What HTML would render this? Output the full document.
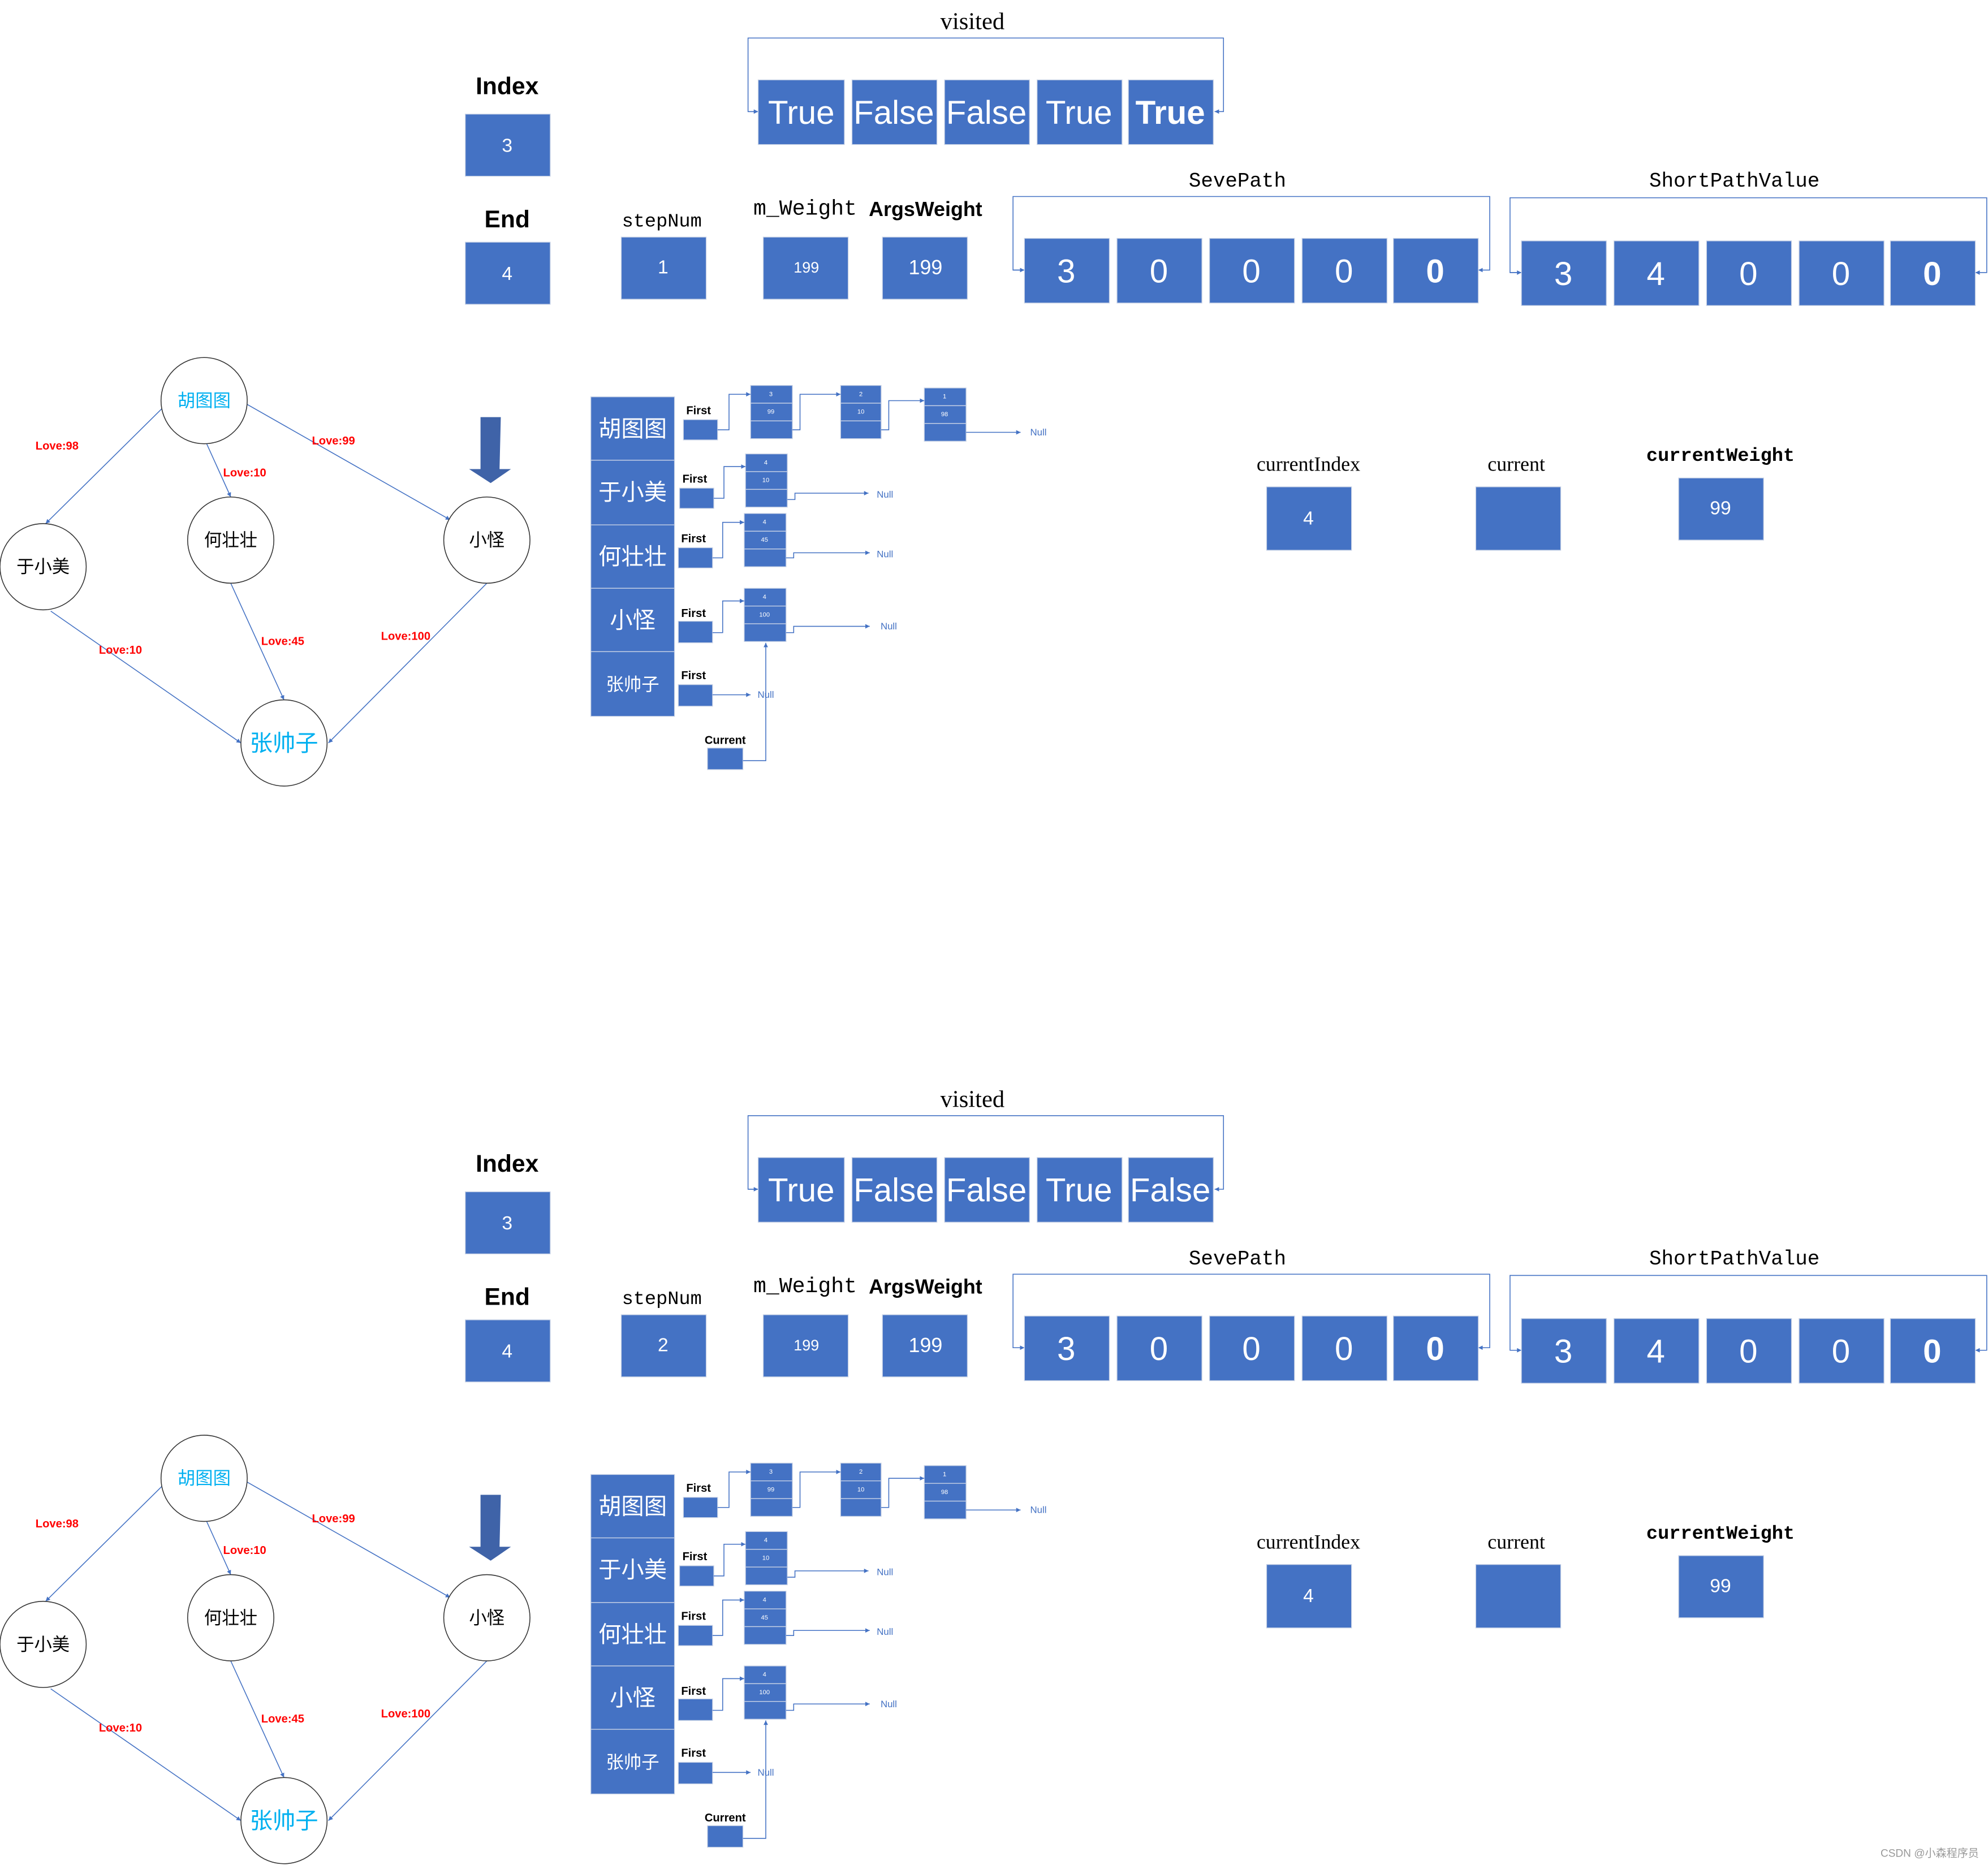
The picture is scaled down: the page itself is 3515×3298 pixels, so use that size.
<!DOCTYPE html>
<html><head><meta charset="utf-8"><style>
html,body{margin:0;padding:0;background:#fff;}
svg{display:block;}
.b{fill:#4472C4;stroke:#C9D3E6;stroke-width:0.6;}
.w{fill:#fff;font-family:"Liberation Sans","Noto Sans CJK SC",sans-serif;text-anchor:middle;dominant-baseline:central;}
.lbl{font-family:"Liberation Sans","Noto Sans CJK SC",sans-serif;text-anchor:middle;dominant-baseline:central;fill:#000;}
.ser{font-family:"Liberation Serif","Noto Serif CJK SC",serif;text-anchor:middle;dominant-baseline:central;fill:#000;}
.mono{font-family:"Liberation Mono","Noto Sans CJK SC",monospace;text-anchor:middle;dominant-baseline:central;fill:#000;}
.ln{fill:none;stroke:#4472C4;stroke-width:0.7;}
.red{fill:#FF0000;font-family:"Liberation Sans",sans-serif;font-size:9px;font-weight:bold;text-anchor:middle;dominant-baseline:central;}
.nul{fill:#4472C4;font-family:"Liberation Sans",sans-serif;font-size:7.5px;text-anchor:middle;dominant-baseline:central;}
.fst{fill:#000;font-family:"Liberation Sans",sans-serif;font-size:9px;font-weight:bold;text-anchor:middle;dominant-baseline:central;}
.c{fill:#fff;stroke:#333;stroke-width:0.7;}
.cn{font-family:"Liberation Sans","Noto Sans CJK SC",sans-serif;text-anchor:middle;dominant-baseline:central;}
</style></head><body>
<svg width="3515" height="3298" viewBox="0 0 1568 1471" preserveAspectRatio="none" xmlns="http://www.w3.org/2000/svg">
<defs>
<marker id="a" viewBox="0 0 10 10" refX="10" refY="5" markerWidth="5" markerHeight="5" orient="auto"><path d="M0,0L10,5L0,10z" fill="#4472C4"/></marker>
</defs>

<!-- ============ TOP HALF ============ -->
<g>
<text class="ser" x="767" y="17" font-size="19">visited</text>
<path class="ln" d="M598,88H590V30H965V88H958" marker-end="url(#a)"/>
<path class="ln" d="M590,88H598" marker-end="url(#a)"/>
<rect class="b" x="598" y="63" width="68" height="51"/><text class="w" x="632" y="89" font-size="26">True</text>
<rect class="b" x="672" y="63" width="67" height="51"/><text class="w" x="705" y="89" font-size="26">False</text>
<rect class="b" x="745" y="63" width="67" height="51"/><text class="w" x="778" y="89" font-size="26">False</text>
<rect class="b" x="818" y="63" width="67" height="51"/><text class="w" x="851" y="89" font-size="26">True</text>
<rect class="b" x="890" y="63" width="67" height="51"/><text class="w" x="923" y="89" font-size="26" font-weight="bold">True</text>

<text class="lbl" x="400" y="68" font-size="19" font-weight="bold">Index</text>
<rect class="b" x="367" y="90" width="67" height="49"/><text class="w" x="400" y="115" font-size="15">3</text>
<text class="lbl" x="400" y="173" font-size="19" font-weight="bold">End</text>
<rect class="b" x="367" y="191" width="67" height="49"/><text class="w" x="400" y="216" font-size="15">4</text>
<text class="mono" x="522" y="175" font-size="15">stepNum</text>
<rect class="b" x="490" y="187" width="67" height="49"/><text class="w" x="523" y="211" font-size="15">1</text>
<text class="mono" x="635" y="165" font-size="17">m_Weight</text>
<rect class="b" x="602" y="187" width="67" height="49"/><text class="w" x="636" y="211" font-size="12">199</text>
<text class="lbl" x="730" y="165" font-size="16" font-weight="bold">ArgsWeight</text>
<rect class="b" x="696" y="187" width="67" height="49"/><text class="w" x="730" y="211" font-size="16">199</text>

<text class="mono" x="976" y="143" font-size="16">SevePath</text>
<path class="ln" d="M808,213H799V155H1175V213H1166" marker-end="url(#a)"/>
<path class="ln" d="M799,213H808" marker-end="url(#a)"/>
<rect class="b" x="808" y="188" width="67" height="51"/><text class="w" x="841" y="214" font-size="26">3</text>
<rect class="b" x="881" y="188" width="67" height="51"/><text class="w" x="914" y="214" font-size="26">0</text>
<rect class="b" x="954" y="188" width="67" height="51"/><text class="w" x="987" y="214" font-size="26">0</text>
<rect class="b" x="1027" y="188" width="67" height="51"/><text class="w" x="1060" y="214" font-size="26">0</text>
<rect class="b" x="1099" y="188" width="67" height="51"/><text class="w" x="1132" y="214" font-size="26" font-weight="bold">0</text>

<text class="mono" x="1368" y="143" font-size="16">ShortPathValue</text>
<path class="ln" d="M1200,215H1191V156H1567V215H1558" marker-end="url(#a)"/>
<path class="ln" d="M1191,215H1200" marker-end="url(#a)"/>
<rect class="b" x="1200" y="190" width="67" height="51"/><text class="w" x="1233" y="216" font-size="26">3</text>
<rect class="b" x="1273" y="190" width="67" height="51"/><text class="w" x="1306" y="216" font-size="26">4</text>
<rect class="b" x="1346" y="190" width="67" height="51"/><text class="w" x="1379" y="216" font-size="26">0</text>
<rect class="b" x="1419" y="190" width="67" height="51"/><text class="w" x="1452" y="216" font-size="26">0</text>
<rect class="b" x="1491" y="190" width="67" height="51"/><text class="w" x="1524" y="216" font-size="26" font-weight="bold">0</text>

<text class="ser" x="1032" y="366" font-size="16">currentIndex</text>
<rect class="b" x="999" y="384" width="67" height="50"/><text class="w" x="1032" y="409" font-size="15">4</text>
<text class="ser" x="1196" y="366" font-size="16">current</text>
<rect class="b" x="1164" y="384" width="67" height="50"/>
<text class="mono" x="1357" y="360" font-size="15" font-weight="bold">currentWeight</text>
<rect class="b" x="1324" y="377" width="67" height="49"/><text class="w" x="1357" y="401" font-size="15">99</text>

<!-- graph -->
<path class="ln" d="M128,322L36,413" marker-end="url(#a)"/>
<path class="ln" d="M163,350L182,392" marker-end="url(#a)"/>
<path class="ln" d="M195,319L355,410" marker-end="url(#a)"/>
<path class="ln" d="M40,482L190,586" marker-end="url(#a)"/>
<path class="ln" d="M182,460L224,552" marker-end="url(#a)"/>
<path class="ln" d="M384,460L259,586" marker-end="url(#a)"/>
<ellipse class="c" cx="161" cy="316" rx="34" ry="34"/><text class="cn" x="161" y="316" font-size="14" fill="#00B0F0">胡图图</text>
<ellipse class="c" cx="34" cy="447" rx="34" ry="34"/><text class="cn" x="34" y="447" font-size="14" fill="#000">于小美</text>
<ellipse class="c" cx="182" cy="426" rx="34" ry="34"/><text class="cn" x="182" y="426" font-size="14" fill="#000">何壮壮</text>
<ellipse class="c" cx="384" cy="426" rx="34" ry="34"/><text class="cn" x="384" y="426" font-size="14" fill="#000">小怪</text>
<ellipse class="c" cx="224" cy="586" rx="34" ry="34"/><text class="cn" x="224" y="586" font-size="18" fill="#00B0F0">张帅子</text>
<text class="red" x="45" y="352">Love:98</text>
<text class="red" x="193" y="373">Love:10</text>
<text class="red" x="263" y="348">Love:99</text>
<text class="red" x="95" y="513">Love:10</text>
<text class="red" x="223" y="506" font-weight="normal">Love:45</text>
<text class="red" x="320" y="502">Love:100</text>
<path d="M379,329L395,329L394,370L403,370L387,381L370,370L379,370Z" fill="#3F63A8"/>

<!-- adjacency -->
<rect class="b" x="466" y="313" width="66" height="50"/><text class="w" x="499" y="338" font-size="18">胡图图</text>
<rect class="b" x="466" y="363" width="66" height="51"/><text class="w" x="499" y="388" font-size="18">于小美</text>
<rect class="b" x="466" y="414" width="66" height="50"/><text class="w" x="499" y="439" font-size="18">何壮壮</text>
<rect class="b" x="466" y="464" width="66" height="50"/><text class="w" x="499" y="489" font-size="18">小怪</text>
<rect class="b" x="466" y="514" width="66" height="51"/><text class="w" x="499" y="540" font-size="14">张帅子</text>

<text class="fst" x="551" y="324">First</text><rect class="b" x="539" y="331" width="27" height="16"/>
<text class="fst" x="548" y="378">First</text><rect class="b" x="536" y="385" width="27" height="16"/>
<text class="fst" x="547" y="425">First</text><rect class="b" x="535" y="432" width="27" height="16"/>
<text class="fst" x="547" y="484">First</text><rect class="b" x="535" y="490" width="27" height="17"/>
<text class="fst" x="547" y="533">First</text><rect class="b" x="535" y="540" width="27" height="17"/>

<g>
<rect class="b" x="592" y="304" width="33" height="14"/><rect class="b" x="592" y="318" width="33" height="14"/><rect class="b" x="592" y="332" width="33" height="14"/>
<text class="w" x="608" y="311" font-size="5">3</text><text class="w" x="608" y="325" font-size="5">99</text>
<rect class="b" x="663" y="304" width="32" height="14"/><rect class="b" x="663" y="318" width="32" height="14"/><rect class="b" x="663" y="332" width="32" height="14"/>
<text class="w" x="679" y="311" font-size="5">2</text><text class="w" x="679" y="325" font-size="5">10</text>
<rect class="b" x="729" y="306" width="33" height="14"/><rect class="b" x="729" y="320" width="33" height="14"/><rect class="b" x="729" y="334" width="33" height="14"/>
<text class="w" x="745" y="313" font-size="5">1</text><text class="w" x="745" y="327" font-size="5">98</text>
<path class="ln" d="M566,339H575V311H592" marker-end="url(#a)"/>
<path class="ln" d="M625,339H631V311H663" marker-end="url(#a)"/>
<path class="ln" d="M695,339H701V316H729" marker-end="url(#a)"/>
<path class="ln" d="M762,341H805" marker-end="url(#a)"/>
<text class="nul" x="819" y="341">Null</text>

<rect class="b" x="588" y="358" width="33" height="14"/><rect class="b" x="588" y="372" width="33" height="14"/><rect class="b" x="588" y="386" width="33" height="14"/>
<text class="w" x="604" y="365" font-size="5">4</text><text class="w" x="604" y="379" font-size="5">10</text>
<path class="ln" d="M563,393H571V368H588" marker-end="url(#a)"/>
<path class="ln" d="M621,394H627V389H685" marker-end="url(#a)"/>
<text class="nul" x="698" y="390">Null</text>

<rect class="b" x="587" y="405" width="33" height="14"/><rect class="b" x="587" y="419" width="33" height="14"/><rect class="b" x="587" y="433" width="33" height="14"/>
<text class="w" x="603" y="412" font-size="5">4</text><text class="w" x="603" y="426" font-size="5">45</text>
<path class="ln" d="M562,440H570V412H587" marker-end="url(#a)"/>
<path class="ln" d="M620,440H626V436H686" marker-end="url(#a)"/>
<text class="nul" x="698" y="437">Null</text>

<rect class="b" x="587" y="464" width="33" height="14"/><rect class="b" x="587" y="478" width="33" height="14"/><rect class="b" x="587" y="492" width="33" height="14"/>
<text class="w" x="603" y="471" font-size="5">4</text><text class="w" x="603" y="485" font-size="5">100</text>
<path class="ln" d="M562,499H570V474H587" marker-end="url(#a)"/>
<path class="ln" d="M620,499H626V494H686" marker-end="url(#a)"/>
<text class="nul" x="701" y="494">Null</text>

<path class="ln" d="M562,548H592" marker-end="url(#a)"/>
<text class="nul" x="604" y="548">Null</text>

<text class="fst" x="572" y="584">Current</text><rect class="b" x="558" y="590" width="28" height="17"/>
<path class="ln" d="M586,600H604V507" marker-end="url(#a)"/>
</g>
</g>

<!-- ============ BOTTOM HALF ============ -->
<g transform="translate(0,850)">
<text class="ser" x="767" y="17" font-size="19">visited</text>
<path class="ln" d="M598,88H590V30H965V88H958" marker-end="url(#a)"/>
<path class="ln" d="M590,88H598" marker-end="url(#a)"/>
<rect class="b" x="598" y="63" width="68" height="51"/><text class="w" x="632" y="89" font-size="26">True</text>
<rect class="b" x="672" y="63" width="67" height="51"/><text class="w" x="705" y="89" font-size="26">False</text>
<rect class="b" x="745" y="63" width="67" height="51"/><text class="w" x="778" y="89" font-size="26">False</text>
<rect class="b" x="818" y="63" width="67" height="51"/><text class="w" x="851" y="89" font-size="26">True</text>
<rect class="b" x="890" y="63" width="67" height="51"/><text class="w" x="923" y="89" font-size="26">False</text>

<text class="lbl" x="400" y="68" font-size="19" font-weight="bold">Index</text>
<rect class="b" x="367" y="90" width="67" height="49"/><text class="w" x="400" y="115" font-size="15">3</text>
<text class="lbl" x="400" y="173" font-size="19" font-weight="bold">End</text>
<rect class="b" x="367" y="191" width="67" height="49"/><text class="w" x="400" y="216" font-size="15">4</text>
<text class="mono" x="522" y="175" font-size="15">stepNum</text>
<rect class="b" x="490" y="187" width="67" height="49"/><text class="w" x="523" y="211" font-size="15">2</text>
<text class="mono" x="635" y="165" font-size="17">m_Weight</text>
<rect class="b" x="602" y="187" width="67" height="49"/><text class="w" x="636" y="211" font-size="12">199</text>
<text class="lbl" x="730" y="165" font-size="16" font-weight="bold">ArgsWeight</text>
<rect class="b" x="696" y="187" width="67" height="49"/><text class="w" x="730" y="211" font-size="16">199</text>

<text class="mono" x="976" y="143" font-size="16">SevePath</text>
<path class="ln" d="M808,213H799V155H1175V213H1166" marker-end="url(#a)"/>
<path class="ln" d="M799,213H808" marker-end="url(#a)"/>
<rect class="b" x="808" y="188" width="67" height="51"/><text class="w" x="841" y="214" font-size="26">3</text>
<rect class="b" x="881" y="188" width="67" height="51"/><text class="w" x="914" y="214" font-size="26">0</text>
<rect class="b" x="954" y="188" width="67" height="51"/><text class="w" x="987" y="214" font-size="26">0</text>
<rect class="b" x="1027" y="188" width="67" height="51"/><text class="w" x="1060" y="214" font-size="26">0</text>
<rect class="b" x="1099" y="188" width="67" height="51"/><text class="w" x="1132" y="214" font-size="26" font-weight="bold">0</text>

<text class="mono" x="1368" y="143" font-size="16">ShortPathValue</text>
<path class="ln" d="M1200,215H1191V156H1567V215H1558" marker-end="url(#a)"/>
<path class="ln" d="M1191,215H1200" marker-end="url(#a)"/>
<rect class="b" x="1200" y="190" width="67" height="51"/><text class="w" x="1233" y="216" font-size="26">3</text>
<rect class="b" x="1273" y="190" width="67" height="51"/><text class="w" x="1306" y="216" font-size="26">4</text>
<rect class="b" x="1346" y="190" width="67" height="51"/><text class="w" x="1379" y="216" font-size="26">0</text>
<rect class="b" x="1419" y="190" width="67" height="51"/><text class="w" x="1452" y="216" font-size="26">0</text>
<rect class="b" x="1491" y="190" width="67" height="51"/><text class="w" x="1524" y="216" font-size="26" font-weight="bold">0</text>

<text class="ser" x="1032" y="366" font-size="16">currentIndex</text>
<rect class="b" x="999" y="384" width="67" height="50"/><text class="w" x="1032" y="409" font-size="15">4</text>
<text class="ser" x="1196" y="366" font-size="16">current</text>
<rect class="b" x="1164" y="384" width="67" height="50"/>
<text class="mono" x="1357" y="360" font-size="15" font-weight="bold">currentWeight</text>
<rect class="b" x="1324" y="377" width="67" height="49"/><text class="w" x="1357" y="401" font-size="15">99</text>

<path class="ln" d="M128,322L36,413" marker-end="url(#a)"/>
<path class="ln" d="M163,350L182,392" marker-end="url(#a)"/>
<path class="ln" d="M195,319L355,410" marker-end="url(#a)"/>
<path class="ln" d="M40,482L190,586" marker-end="url(#a)"/>
<path class="ln" d="M182,460L224,552" marker-end="url(#a)"/>
<path class="ln" d="M384,460L259,586" marker-end="url(#a)"/>
<ellipse class="c" cx="161" cy="316" rx="34" ry="34"/><text class="cn" x="161" y="316" font-size="14" fill="#00B0F0">胡图图</text>
<ellipse class="c" cx="34" cy="447" rx="34" ry="34"/><text class="cn" x="34" y="447" font-size="14" fill="#000">于小美</text>
<ellipse class="c" cx="182" cy="426" rx="34" ry="34"/><text class="cn" x="182" y="426" font-size="14" fill="#000">何壮壮</text>
<ellipse class="c" cx="384" cy="426" rx="34" ry="34"/><text class="cn" x="384" y="426" font-size="14" fill="#000">小怪</text>
<ellipse class="c" cx="224" cy="586" rx="34" ry="34"/><text class="cn" x="224" y="586" font-size="18" fill="#00B0F0">张帅子</text>
<text class="red" x="45" y="352">Love:98</text>
<text class="red" x="193" y="373">Love:10</text>
<text class="red" x="263" y="348">Love:99</text>
<text class="red" x="95" y="513">Love:10</text>
<text class="red" x="223" y="506" font-weight="normal">Love:45</text>
<text class="red" x="320" y="502">Love:100</text>
<path d="M379,329L395,329L394,370L403,370L387,381L370,370L379,370Z" fill="#3F63A8"/>

<rect class="b" x="466" y="313" width="66" height="50"/><text class="w" x="499" y="338" font-size="18">胡图图</text>
<rect class="b" x="466" y="363" width="66" height="51"/><text class="w" x="499" y="388" font-size="18">于小美</text>
<rect class="b" x="466" y="414" width="66" height="50"/><text class="w" x="499" y="439" font-size="18">何壮壮</text>
<rect class="b" x="466" y="464" width="66" height="50"/><text class="w" x="499" y="489" font-size="18">小怪</text>
<rect class="b" x="466" y="514" width="66" height="51"/><text class="w" x="499" y="540" font-size="14">张帅子</text>

<text class="fst" x="551" y="324">First</text><rect class="b" x="539" y="331" width="27" height="16"/>
<text class="fst" x="548" y="378">First</text><rect class="b" x="536" y="385" width="27" height="16"/>
<text class="fst" x="547" y="425">First</text><rect class="b" x="535" y="432" width="27" height="16"/>
<text class="fst" x="547" y="484">First</text><rect class="b" x="535" y="490" width="27" height="17"/>
<text class="fst" x="547" y="533">First</text><rect class="b" x="535" y="540" width="27" height="17"/>

<rect class="b" x="592" y="304" width="33" height="14"/><rect class="b" x="592" y="318" width="33" height="14"/><rect class="b" x="592" y="332" width="33" height="14"/>
<text class="w" x="608" y="311" font-size="5">3</text><text class="w" x="608" y="325" font-size="5">99</text>
<rect class="b" x="663" y="304" width="32" height="14"/><rect class="b" x="663" y="318" width="32" height="14"/><rect class="b" x="663" y="332" width="32" height="14"/>
<text class="w" x="679" y="311" font-size="5">2</text><text class="w" x="679" y="325" font-size="5">10</text>
<rect class="b" x="729" y="306" width="33" height="14"/><rect class="b" x="729" y="320" width="33" height="14"/><rect class="b" x="729" y="334" width="33" height="14"/>
<text class="w" x="745" y="313" font-size="5">1</text><text class="w" x="745" y="327" font-size="5">98</text>
<path class="ln" d="M566,339H575V311H592" marker-end="url(#a)"/>
<path class="ln" d="M625,339H631V311H663" marker-end="url(#a)"/>
<path class="ln" d="M695,339H701V316H729" marker-end="url(#a)"/>
<path class="ln" d="M762,341H805" marker-end="url(#a)"/>
<text class="nul" x="819" y="341">Null</text>

<rect class="b" x="588" y="358" width="33" height="14"/><rect class="b" x="588" y="372" width="33" height="14"/><rect class="b" x="588" y="386" width="33" height="14"/>
<text class="w" x="604" y="365" font-size="5">4</text><text class="w" x="604" y="379" font-size="5">10</text>
<path class="ln" d="M563,393H571V368H588" marker-end="url(#a)"/>
<path class="ln" d="M621,394H627V389H685" marker-end="url(#a)"/>
<text class="nul" x="698" y="390">Null</text>

<rect class="b" x="587" y="405" width="33" height="14"/><rect class="b" x="587" y="419" width="33" height="14"/><rect class="b" x="587" y="433" width="33" height="14"/>
<text class="w" x="603" y="412" font-size="5">4</text><text class="w" x="603" y="426" font-size="5">45</text>
<path class="ln" d="M562,440H570V412H587" marker-end="url(#a)"/>
<path class="ln" d="M620,440H626V436H686" marker-end="url(#a)"/>
<text class="nul" x="698" y="437">Null</text>

<rect class="b" x="587" y="464" width="33" height="14"/><rect class="b" x="587" y="478" width="33" height="14"/><rect class="b" x="587" y="492" width="33" height="14"/>
<text class="w" x="603" y="471" font-size="5">4</text><text class="w" x="603" y="485" font-size="5">100</text>
<path class="ln" d="M562,499H570V474H587" marker-end="url(#a)"/>
<path class="ln" d="M620,499H626V494H686" marker-end="url(#a)"/>
<text class="nul" x="701" y="494">Null</text>

<path class="ln" d="M562,548H592" marker-end="url(#a)"/>
<text class="nul" x="604" y="548">Null</text>

<text class="fst" x="572" y="584">Current</text><rect class="b" x="558" y="590" width="28" height="17"/>
<path class="ln" d="M586,600H604V507" marker-end="url(#a)"/>
</g>

<text x="1522" y="1462" font-size="8.5" fill="#999" text-anchor="middle" dominant-baseline="central" font-family="Liberation Sans, Noto Sans CJK SC, sans-serif">CSDN @小森程序员</text>
</svg>
</body></html>
